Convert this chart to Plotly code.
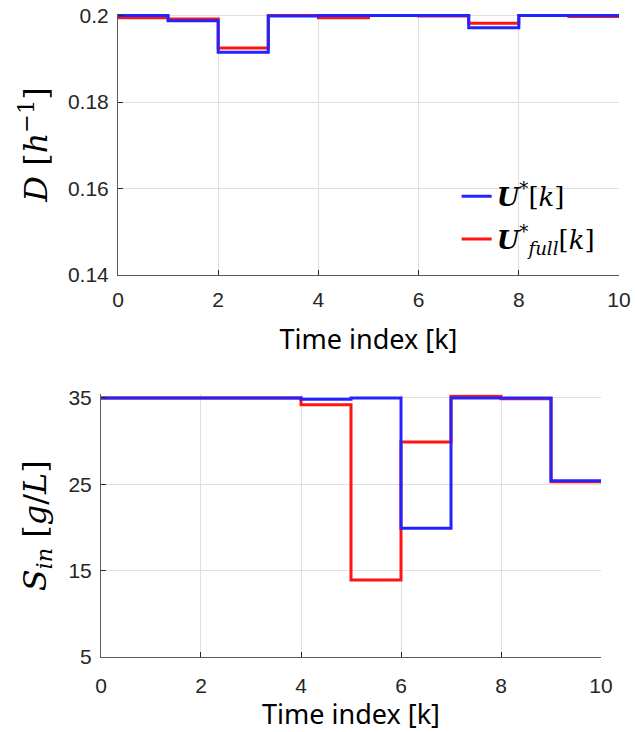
import plotly.graph_objects as go

# ---- data ----
k_edges = list(range(11))
D_opt = [0.2000, 0.1988, 0.1915, 0.1999, 0.2000, 0.2000, 0.2000, 0.1972, 0.2000, 0.2000]
D_full = [0.1995, 0.1992, 0.1925, 0.2000, 0.1995, 0.2000, 0.1999, 0.1982, 0.2000, 0.1998]
S_opt = [35.0, 35.0, 35.0, 35.0, 34.85, 35.0, 19.9, 35.0, 35.0, 25.4]
S_full = [35.0, 35.0, 35.0, 35.0, 34.2, 13.9, 29.9, 35.2, 34.9, 25.3]

x_ticks = [0, 2, 4, 6, 8, 10]
D_ticks = [0.14, 0.16, 0.18, 0.2]
D_ticktext = ["0.14", "0.16", "0.18", "0.2"]
S_ticks = [5, 15, 25, 35]

name_opt = "<b><i>U</i></b><sup>*</sup>[<i>k</i>]"
name_full = "<b><i>U</i></b><sup>*</sup><sub><i>full</i></sub>[<i>k</i>]"

BLUE = "rgb(35,35,255)"
RED = "rgb(255,20,20)"
AX = "rgb(38,38,38)"
GRID = "rgb(223,223,223)"
TICKFONT = dict(family="Liberation Sans, Arial", size=21, color=AX)
TITLEFONT = dict(family="Noto Sans, Open Sans", size=27, color="black")
MATHFONT = dict(family="DejaVu Serif, Liberation Serif", size=32, color="black")


def steps(v):
    return v + [v[-1]]


fig = go.Figure()
fig.add_trace(go.Scatter(x=k_edges, y=steps(D_full), mode="lines", name=name_full,
                         legendrank=2, legendgroup="full",
                         line=dict(color=RED, width=3, shape="hv"), xaxis="x", yaxis="y"))
fig.add_trace(go.Scatter(x=k_edges, y=steps(D_opt), mode="lines", name=name_opt,
                         legendrank=1, legendgroup="opt",
                         line=dict(color=BLUE, width=3, shape="hv"), xaxis="x", yaxis="y"))
fig.add_trace(go.Scatter(x=k_edges, y=steps(S_full), mode="lines", showlegend=False,
                         line=dict(color=RED, width=3, shape="hv"), xaxis="x2", yaxis="y2"))
fig.add_trace(go.Scatter(x=k_edges, y=steps(S_opt), mode="lines", showlegend=False,
                         line=dict(color=BLUE, width=3, shape="hv"), xaxis="x2", yaxis="y2"))

common_x = dict(range=[0, 10], tickvals=x_ticks, showgrid=True, gridcolor=GRID, gridwidth=1,
                zeroline=False, showline=True, linecolor="rgb(90,90,90)", linewidth=1,
                ticks="inside", ticklen=5, tickcolor=AX, tickfont=TICKFONT,
                automargin=False)
common_y = dict(showgrid=True, gridcolor=GRID, gridwidth=1, zeroline=False, showline=True,
                linecolor="rgb(90,90,90)", linewidth=1, ticks="inside", ticklen=5,
                tickcolor=AX, tickfont=TICKFONT, automargin=False, ticklabelstandoff=4)

fig.update_layout(
    width=636, height=732,
    margin=dict(l=0, r=0, t=0, b=0),
    paper_bgcolor="white", plot_bgcolor="white",
    xaxis=dict(common_x, domain=[0.1855, 0.9733], anchor="y",
               title=dict(text="Time index [k]", font=TITLEFONT, standoff=19),
               ticklabelstandoff=6),
    yaxis=dict(common_y, domain=[0.6243, 0.9811], anchor="x", range=[0.14, 0.2004],
               tickvals=D_ticks, ticktext=D_ticktext,
               title=dict(text="<i>D</i> [<i>h</i><sup>−1</sup>]", font=MATHFONT, standoff=10)),
    xaxis2=dict(common_x, domain=[0.1588, 0.9450], anchor="y2",
                title=dict(text="Time index [k]", font=TITLEFONT, standoff=2),
                ticklabelstandoff=10),
    yaxis2=dict(common_y, domain=[0.1025, 0.4611], anchor="x2", range=[5, 35.4],
                tickvals=S_ticks,
                title=dict(text="<i>S</i><sub><i>in</i></sub> [<i>g</i>/<i>L</i>]",
                           font=MATHFONT, standoff=12)),
    legend=dict(x=0.718, y=0.764, xanchor="left", yanchor="top",
                bgcolor="rgba(0,0,0,0)", borderwidth=0,
                font=dict(family="DejaVu Serif, Liberation Serif", size=26, color="black"),
                traceorder="grouped", tracegroupgap=6),
)

fig.write_html("out.html")
